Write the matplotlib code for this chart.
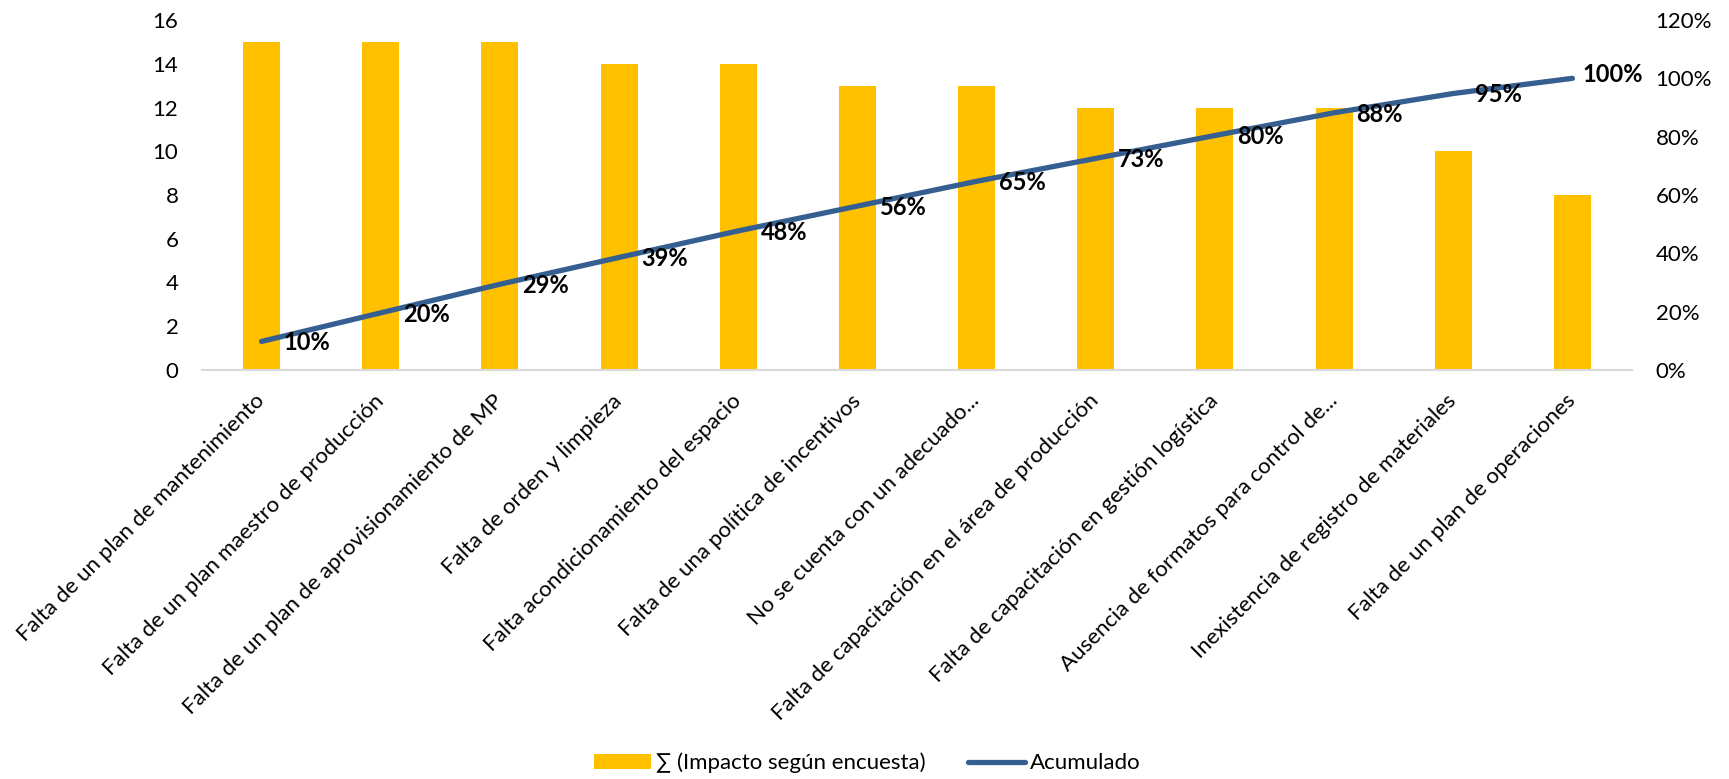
import matplotlib
matplotlib.use("Agg")
import matplotlib.pyplot as plt
from matplotlib.patches import Patch
from matplotlib.lines import Line2D

plt.rcParams['font.family'] = ['Lato', 'DejaVu Sans']

categories = [
    "Falta de un plan de mantenimiento",
    "Falta de un plan maestro de producción",
    "Falta de un plan de aprovisionamiento de MP",
    "Falta de orden y limpieza",
    "Falta acondicionamiento del espacio",
    "Falta de una política de incentivos",
    "No se cuenta con un adecuado...",
    "Falta de capacitación en el área de producción",
    "Falta de capacitación en gestión logística",
    "Ausencia de formatos para control de...",
    "Inexistencia de registro de materiales",
    "Falta de un plan de operaciones",
]
impacto = [15, 15, 15, 14, 14, 13, 13, 12, 12, 12, 10, 8]
acumulado = [9.8, 19.6, 29.4, 38.6, 47.7, 56.2, 64.7, 72.55, 80.4, 88.2, 94.8, 100.0]
left_ticks = [0, 2, 4, 6, 8, 10, 12, 14, 16]
right_ticks = [0, 20, 40, 60, 80, 100, 120]

BAR = "#FFC000"
LINE = "#365F91"
FS = 16

fig = plt.figure(figsize=(17.29, 7.79), dpi=100)
ax = fig.add_axes([202/1729, 1-370/779, (1632-202)/1729, (370-20)/779])
ax2 = ax.twinx()

x = list(range(len(categories)))
ax.bar(x, impacto, width=0.31, color=BAR, zorder=2)
ax.set_xlim(-0.5, len(categories) - 0.5)
ax.set_ylim(0, 16)
ax.set_yticks(left_ticks)
ax.set_yticklabels([str(t) for t in left_ticks], fontsize=FS)
ax.set_xticks(x)
ax.set_xticklabels(categories, rotation=45, ha='right', va='center',
                   rotation_mode='anchor', fontsize=FS)
ax.tick_params(axis='x', length=0, pad=20)
ax.tick_params(axis='y', length=0, pad=17)

ax2.plot(x, acumulado, color=LINE, lw=3.8, solid_capstyle='round', zorder=3)
ax2.set_ylim(0, 120)
ax2.set_yticks(right_ticks)
ax2.set_yticklabels([f"{t}%" for t in right_ticks], fontsize=FS)
ax2.tick_params(axis='y', length=0, pad=17)

for i, v in enumerate(acumulado):
    off = (16, -1) if i < len(acumulado) - 1 else (7, 3)
    ax2.annotate(f"{v:.0f}%", (i, v), xytext=off, textcoords='offset points',
                 ha='left', va='center', fontsize=17, fontweight='bold', color='black')

for a in (ax, ax2):
    for s in ('top', 'left', 'right'):
        a.spines[s].set_visible(False)
    a.spines['bottom'].set_color('#D9D9D9')
    a.spines['bottom'].set_linewidth(1.5)
ax2.spines['bottom'].set_visible(False)

handles = [Patch(facecolor=BAR, edgecolor='none'),
           Line2D([0], [0], color=LINE, lw=3.8, solid_capstyle='round')]
fig.legend(handles, ["∑ (Impacto según encuesta)", "Acumulado"],
           loc='center', bbox_to_anchor=(0.5015, 1-763/779), ncol=2, frameon=False,
           fontsize=FS, handlelength=2.6, handleheight=0.6, handletextpad=0.2,
           columnspacing=1.9)

fig.savefig("out.png", dpi=100)
